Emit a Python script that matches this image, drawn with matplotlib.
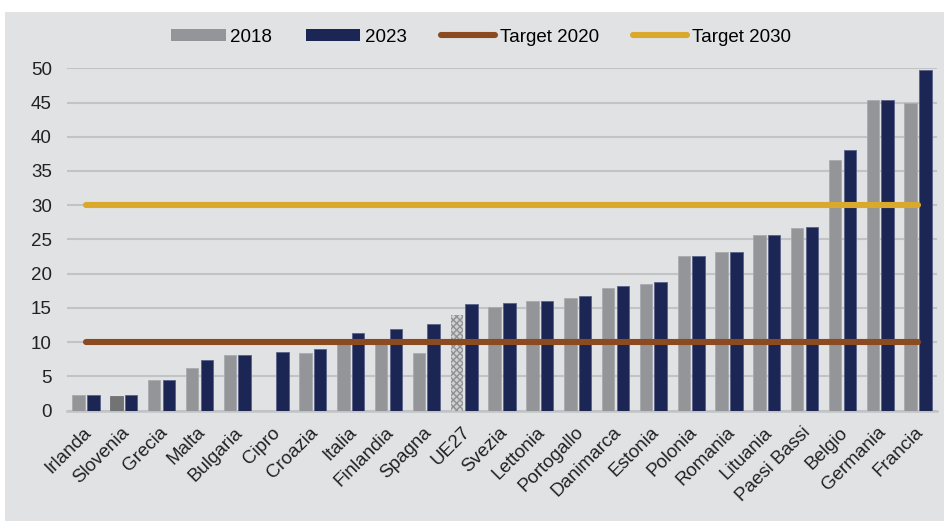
import numpy as np
import matplotlib.pyplot as plt
import matplotlib.transforms as mtrans
from matplotlib.patches import Rectangle
from matplotlib.lines import Line2D
from matplotlib.patches import Patch

plt.rcParams['font.family'] = ['Liberation Sans', 'DejaVu Sans']

## data
paesi = ["Irlanda", "Slovenia", "Grecia", "Malta", "Bulgaria", "Cipro", "Croazia",
         "Italia", "Finlandia", "Spagna", "UE27", "Svezia", "Lettonia", "Portogallo",
         "Danimarca", "Estonia", "Polonia", "Romania", "Lituania", "Paesi Bassi",
         "Belgio", "Germania", "Francia"]
v2018 = [2.3, 2.1, 4.45, 6.25, 8.05, 0.0, 8.45, 9.7, 10.45, 8.35, 13.95, 15.15,
         16.0, 16.5, 17.85, 18.55, 22.55, 23.1, 25.6, 26.65, 36.65, 45.3, 45.0]
v2023 = [2.3, 2.3, 4.45, 7.4, 8.05, 8.55, 9.0, 11.3, 11.85, 12.7, 15.55, 15.75,
         16.0, 16.8, 18.2, 18.75, 22.55, 23.1, 25.6, 26.85, 38.0, 45.4, 49.7]
target_2020 = 10
target_2030 = 30
yticks = list(range(0, 55, 5))

## colours
c18 = "#939598"
c23 = "#1b2654"
c_t20 = "#8b4a1f"
c_t30 = "#daa82a"
bg = "#e1e2e4"
grid_c = "#c2c3c5"

fig = plt.figure(figsize=(9.44, 5.21), dpi=100)
fig.patches.append(Rectangle((5/944, 0), 1, 1 - 12/521, transform=fig.transFigure,
                             facecolor=bg, edgecolor="none", zorder=-10))

ax = fig.add_axes([67/944, (521-410.5)/521, 870/944, (410.5-68.3)/521])
ax.set_facecolor("none")

x = np.arange(len(paesi))
w = 0.33
off = 0.195
b18 = ax.bar(x - off, v2018, w, color=c18, edgecolor="#a9abae", linewidth=0.6, zorder=3)
b23 = ax.bar(x + off, v2023, w, color=c23, edgecolor="#5a6288", linewidth=0.6, zorder=3)

## special bars: Slovenia darker, UE27 hatched
b18[1].set_facecolor("#717375")
b18[1].set_edgecolor("#717375")
ue = paesi.index("UE27")
b18[ue].set_facecolor("#cfd0d2")
b18[ue].set_edgecolor("#8f9194")
b18[ue].set_hatch("xxxxx")
b18[ue].set_linewidth(0)

## target lines
ax.plot([x[0], x[-1]], [target_2020]*2, color=c_t20, lw=4.4, solid_capstyle="round", zorder=4)
ax.plot([x[0], x[-1]], [target_2030]*2, color=c_t30, lw=4.4, solid_capstyle="round", zorder=4)

ax.set_xlim(-0.5, len(paesi) - 0.5)
ax.set_ylim(0, 50)
ax.set_yticks(yticks)
ax.yaxis.grid(True, color=grid_c, lw=1.5, zorder=0)
ax.set_axisbelow(True)
for s in ["top", "right", "left"]:
    ax.spines[s].set_visible(False)
ax.spines["bottom"].set_color(grid_c)
ax.spines["bottom"].set_linewidth(1.8)
ax.tick_params(axis="both", length=0, labelsize=13.5, colors="#222222")
ax.tick_params(axis="y", pad=11)
ax.set_xticks(x)
ax.set_xticklabels(paesi, rotation=45, ha="right", va="center", rotation_mode="anchor")
ax.tick_params(axis="x", pad=14)
shift = mtrans.ScaledTranslation(3/100, 0, fig.dpi_scale_trans)
for lab in ax.get_xticklabels():
    lab.set_transform(lab.get_transform() + shift)

handles = [Patch(facecolor=c18, edgecolor="none"),
           Patch(facecolor=c23, edgecolor="none"),
           Line2D([], [], color=c_t20, lw=4.4, solid_capstyle="round"),
           Line2D([], [], color=c_t30, lw=4.4, solid_capstyle="round")]
fig.legend(handles, ["2018", "2023", "Target 2020", "Target 2030"], loc="center",
           bbox_to_anchor=(481/944, 1 - 37/521), ncol=4, frameon=False, fontsize=13.5,
           handlelength=2.9, handleheight=0.55, handletextpad=0.25, columnspacing=1.8)

fig.savefig("out.png", dpi=100)
